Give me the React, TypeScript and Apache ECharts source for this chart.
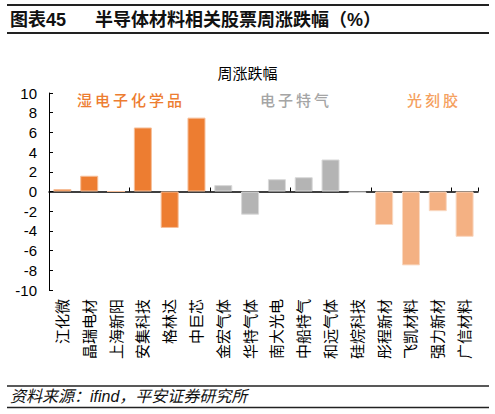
import React, { useEffect, useRef } from "react";
import * as echarts from "echarts";

const categories = [
  "江化微", "晶瑞电材", "上海新阳", "安集科技", "格林达", "中巨芯",
  "金宏气体", "华特气体", "南大光电", "中船特气", "和远气体", "硅烷科技",
  "彤程新材", "飞凯材料", "强力新材", "广信材料",
];
const values = [0.25, 1.6, 0, 6.5, -3.7, 7.5, 0.65, -2.35, 1.25, 1.45, 3.25, -0.15, -3.4, -7.5, -2.0, -4.6];
const groups = [0, 0, 0, 0, 0, 0, 1, 1, 1, 1, 1, 1, 2, 2, 2, 2];
const groupNames = ["湿电子化学品", "电子特气", "光刻胶"];
const groupColors = ["#ED7D31", "#B4B4B4", "#F4B183"];
const groupBorders = ["#F6BE98", "#D9D9D9", "#F9D8C1"];
const groupTextColors = ["#ED7D31", "#A5A5A5", "#F5A15F"];
const yTicks = { min: -10, max: 10, interval: 2 };
const chartTitle = "周涨跌幅";
const figureLabel = "图表45";
const figureTitle = "半导体材料相关股票周涨跌幅（%）";
const sourceText = "资料来源：ifind，平安证券研究所";

const CJK = "'Liberation Sans', 'Noto Sans CJK SC', sans-serif";

export default function App() {
  const ref = useRef<HTMLDivElement>(null);
  useEffect(() => {
    if (!ref.current) return;
    const chart = echarts.init(ref.current, null, { renderer: "svg" });
    const gridLeft = 49;
    const gridRight = 17;
    const groupLabelPos = [
      { x: 77, color: groupTextColors[0] },
      { x: 260, color: groupTextColors[1] },
      { x: 407, color: groupTextColors[2] },
    ];
    chart.setOption({
      animation: false,
      title: {
        text: chartTitle,
        left: "center",
        top: 61,
        textStyle: { fontSize: 15, fontWeight: "normal", color: "#000", fontFamily: CJK },
      },
      grid: { left: gridLeft, right: gridRight, top: 93, bottom: 124, containLabel: false },
      xAxis: [
        {
          type: "category",
          data: categories,
          position: "bottom",
          axisLine: { show: false, onZero: false },
          axisTick: { show: false },
          axisLabel: {
            rotate: 90,
            interval: 0,
            margin: 9,
            fontSize: 15,
            color: "#000",
            fontFamily: CJK,
          },
        },
        {
          type: "category",
          data: categories,
          position: "bottom",
          axisLine: { show: true, onZero: true, lineStyle: { color: "#000", width: 1.5 } },
          axisTick: { show: true, inside: true, length: 4, lineStyle: { color: "#000", width: 1 } },
          axisLabel: { show: false },
        },
      ],
      yAxis: {
        type: "value",
        min: yTicks.min,
        max: yTicks.max,
        interval: yTicks.interval,
        axisLine: { show: true, lineStyle: { color: "#000", width: 1 } },
        axisTick: { show: true, inside: true, length: 4, lineStyle: { color: "#000" } },
        splitLine: { show: false },
        axisLabel: { fontSize: 15, color: "#000", margin: 12, fontFamily: "'Liberation Sans', sans-serif" },
      },
      series: [
        {
          type: "bar",
          xAxisIndex: 0,
          barWidth: 18,
          data: values.map((v, i) => ({
            value: v,
            itemStyle: {
              color: groupColors[groups[i]],
              borderColor: groupBorders[groups[i]],
              borderWidth: 1,
            },
          })),
        },
      ],
      graphic: [
        { type: "line", shape: { x1: 7, y1: 5, x2: 489, y2: 5 }, style: { stroke: "#222", lineWidth: 2 } },
        { type: "line", shape: { x1: 7, y1: 33, x2: 489, y2: 33 }, style: { stroke: "#222", lineWidth: 2 } },
        {
          type: "text", x: 10, y: 20,
          style: { text: figureLabel, fontSize: 18, fontWeight: "bold", fill: "#111", fontFamily: CJK, verticalAlign: "middle" },
        },
        {
          type: "text", x: 95, y: 20,
          style: { text: figureTitle, fontSize: 18, fontWeight: "bold", fill: "#111", fontFamily: CJK, verticalAlign: "middle" },
        },
        ...groupLabelPos.map((g, i) => ({
          type: "text", x: g.x, y: 100,
          style: {
            text: groupNames[i].split("").join("\u2009"),
            fontSize: 15, fontWeight: 500, fill: g.color, fontFamily: CJK, verticalAlign: "middle",
          },
        })),
        { type: "line", shape: { x1: 7, y1: 386, x2: 489, y2: 386 }, style: { stroke: "#222", lineWidth: 1.5 } },
        { type: "line", shape: { x1: 7, y1: 407.5, x2: 489, y2: 407.5 }, style: { stroke: "#222", lineWidth: 1.5 } },
        {
          type: "text", x: 10, y: 396,
          style: { text: sourceText, fontSize: 16, fontStyle: "italic", fill: "#111", fontFamily: CJK, verticalAlign: "middle" },
        },
      ],
    });
    return () => chart.dispose();
  }, []);
  return <div ref={ref} style={{ width: 495, height: 414, position: "absolute", left: 0, top: 0 }} />;
}
